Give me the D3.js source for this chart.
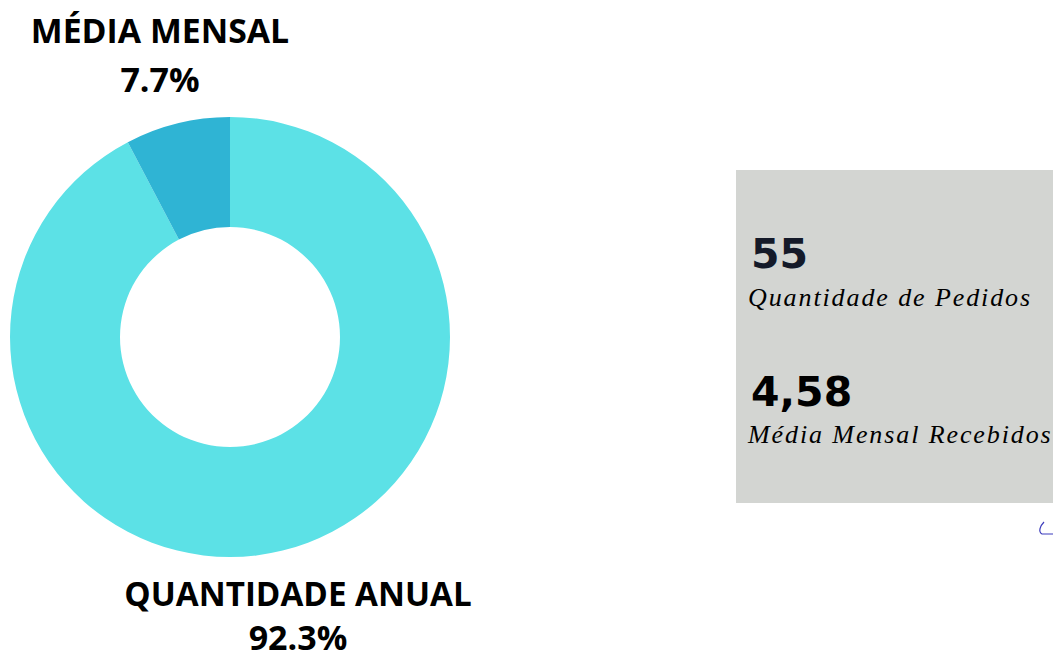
<!DOCTYPE html>
<html><head><meta charset="utf-8">
<script src="https://cdn.jsdelivr.net/npm/d3@7"></script>
<style>html,body{margin:0;padding:0;background:#fff;}svg{display:block;}</style>
</head><body>
<svg id="chart" width="1053" height="657"></svg>
<script>
const categories = ["QUANTIDADE ANUAL", "MÉDIA MENSAL"];
const values = [55, 4.58];
const sliceColors = ["#5ce1e6", "#2fb4d4"];
const kpiValues = ["55", "4,58"];
const kpiLabels = ["Quantidade de Pedidos", "Média Mensal Recebidos"];

const svg = d3.select("#chart");
const cx = 230, cy = 337, outerR = 220, innerR = 110;

const pie = d3.pie().sort(null).value(d => d);
const arc = d3.arc().innerRadius(innerR).outerRadius(outerR);
const color = d3.scaleOrdinal().domain(categories).range(sliceColors);
const arcs = pie(values);
const total = d3.sum(values);
const fmt = d3.format(".1%");

const g = svg.append("g").attr("transform", `translate(${cx},${cy})`);
g.selectAll("path").data(arcs).join("path")
  .attr("d", arc)
  .attr("fill", (d, i) => color(categories[i]));

// labels
const labelPos = [
  {x: 298, y1: 606, y2: 650, s: 33.2},
  {x: 160, y1: 43, y2: 92, s: 33.8}
];
categories.forEach((c, i) => {
  const p = labelPos[i];
  svg.append("text").attr("x", p.x).attr("y", p.y1)
    .attr("text-anchor", "middle")
    .attr("font-family", "'Open Sans', sans-serif").attr("font-weight", 700)
    .attr("font-size", p.s).attr("fill", "#000").text(c);
  svg.append("text").attr("x", p.x).attr("y", p.y2)
    .attr("text-anchor", "middle")
    .attr("font-family", "'Open Sans', sans-serif").attr("font-weight", 700)
    .attr("font-size", 34).attr("fill", "#000").text(fmt(values[i] / total));
});

// KPI box
svg.append("rect").attr("x", 736).attr("y", 170).attr("width", 320).attr("height", 333).attr("fill", "#d3d5d2");
const kpiY = [{v: 268, l: 306}, {v: 406, l: 443}];
kpiValues.forEach((v, i) => {
  svg.append("text").attr("x", 751).attr("y", kpiY[i].v)
    .attr("font-family", "'DejaVu Sans', sans-serif").attr("font-weight", 700)
    .attr("font-size", 41)
    .attr("fill", i === 0 ? "#141a29" : "#000").text(v);
  svg.append("text").attr("x", 748).attr("y", kpiY[i].l)
    .attr("font-family", "'Liberation Serif', serif").attr("font-style", "italic")
    .attr("font-size", 26).attr("letter-spacing", 1.9)
    .attr("fill", "#000").text(kpiLabels[i]);
});

// small blue stroke
svg.append("path").attr("d", "M1044,522 C1040,526 1038,532 1042,534 L1053,534")
  .attr("fill", "none").attr("stroke", "#3d3dbd").attr("stroke-width", 1.2);
</script>
</body></html>
